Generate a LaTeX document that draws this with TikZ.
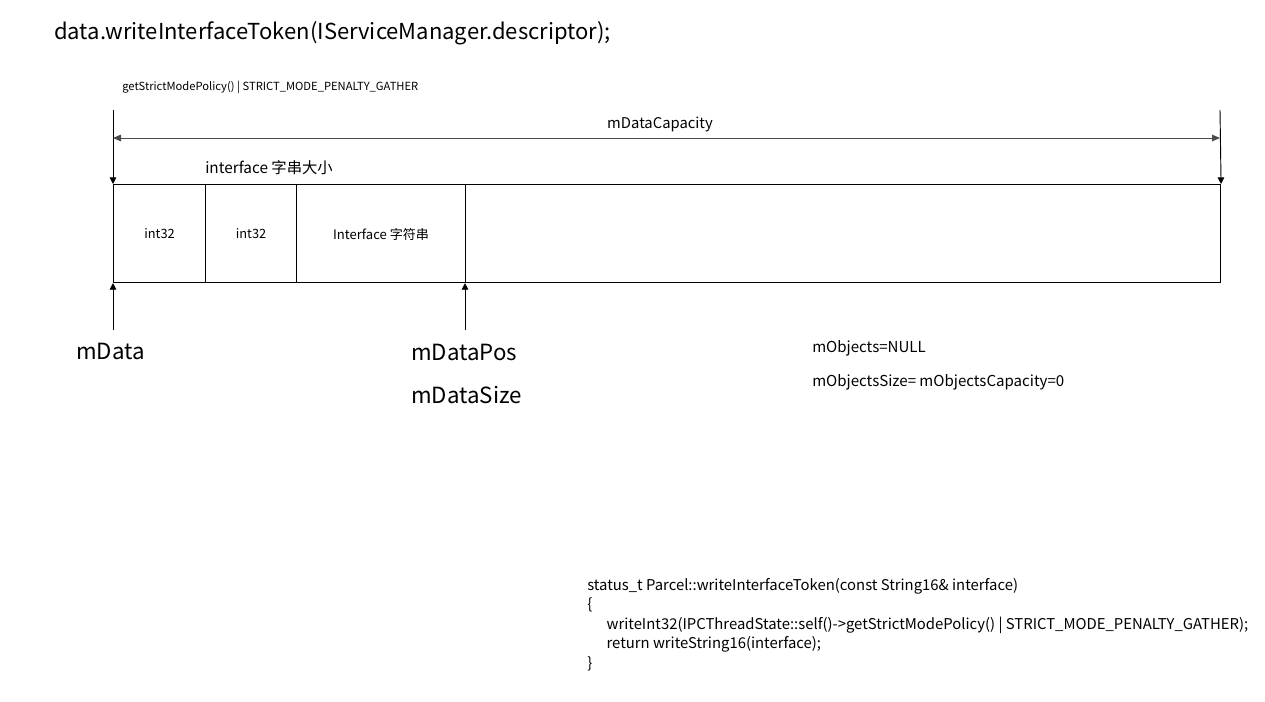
\documentclass[tikz,border=0pt]{standalone}
\usepackage{fontspec}
\setmainfont{Noto Sans CJK SC}
\usetikzlibrary{arrows.meta}
\begin{document}
\begin{tikzpicture}[x=0.75pt,y=-0.75pt,
  lbl/.style={inner sep=0pt,anchor=west},
  cell/.style={draw=black,line width=0.8pt,minimum height=98*0.75pt,inner sep=0pt,anchor=north west},
  ptr/.style={line width=0.7pt,-{Triangle[length=5pt,width=5pt]}},
  dim/.style={line width=0.7pt,draw=black!70,{Triangle[length=6pt,width=5pt]}-{Triangle[length=6pt,width=5pt]}}]
\useasboundingbox (0,0) rectangle (1265,702);
\node[lbl,font=\fontsize{16.5}{19}\selectfont] (title) at (54,33) {data.writeInterfaceToken(IServiceManager.descriptor);};
\node[lbl,font=\fontsize{8.4}{10}\selectfont] (policy) at (122,87) {getStrictModePolicy() | STRICT\_MODE\_PENALTY\_GATHER};
% cells
\node[cell,minimum width=92*0.75pt] (c1) at (113,184) {};
\node[cell,minimum width=91*0.75pt] (c2) at (205,184) {};
\node[cell,minimum width=169*0.75pt] (c3) at (296,184) {};
\node[cell,minimum width=755*0.75pt] (c4) at (465,184) {};
\node[font=\fontsize{9.6}{11}\selectfont] at (c1.center) {int32};
\node[font=\fontsize{9.6}{11}\selectfont] at (c2.center) {int32};
\node[font=\fontsize{9.8}{11}\selectfont] at ([yshift=-0.75pt]c3.center) {Interface 字符串};
% top markers
\coordinate (lt) at (113,110);
\coordinate (rt) at (1220,110);
\draw[ptr] (lt) -- (c1.north west);
\draw[ptr] (rt) -- (c4.north east);
\coordinate (dl) at (113,138);
\coordinate (dr) at (1220,138);
\draw[dim] (dl) -- (dr);
\node[font=\fontsize{11.1}{13}\selectfont] (cap) at (660,125) {mDataCapacity};
\node[lbl,font=\fontsize{11.5}{13}\selectfont] (isz) at (205,168) {interface 字串大小};
% bottom pointers
\coordinate (pd) at (113,330);
\coordinate (pp) at (465,330);
\draw[ptr] (pd) -- (c1.south west);
\draw[ptr] (pp) -- (c4.south west);
\node[lbl,font=\fontsize{16.7}{19}\selectfont] (mdata) at (76,351) {mData};
\node[lbl,font=\fontsize{16.7}{19}\selectfont] (mpos) at (411,352) {mDataPos};
\node[lbl,font=\fontsize{16.7}{19}\selectfont] (msize) at (411,395) {mDataSize};
\node[lbl,font=\fontsize{11.3}{13}\selectfont] (mobj) at (812,348) {mObjects=NULL};
\node[lbl,font=\fontsize{11.3}{13}\selectfont] (mobjs) at (812,382) {mObjectsSize= mObjectsCapacity=0};
% code
\node[lbl,anchor=north west,font=\fontsize{11.15}{14.6}\selectfont,align=left] (code) at (587,578) {%
status\_t Parcel::writeInterfaceToken(const String16\& interface)\\
\{\\
\hspace*{1.3em}writeInt32(IPCThreadState::self()->getStrictModePolicy() | STRICT\_MODE\_PENALTY\_GATHER);\\
\hspace*{1.3em}return writeString16(interface);\\
\}};
\end{tikzpicture}
\end{document}
